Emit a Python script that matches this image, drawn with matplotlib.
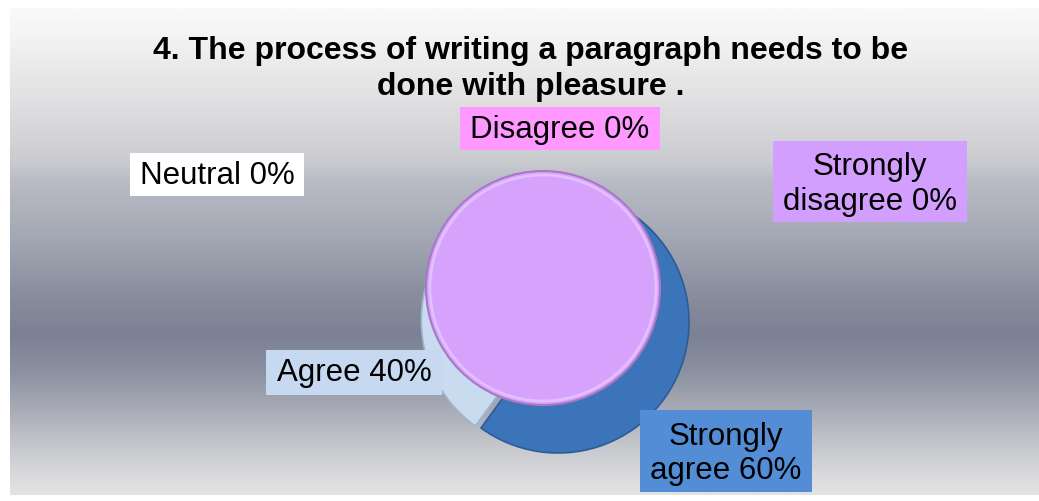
import matplotlib
matplotlib.use("Agg")
import matplotlib.pyplot as plt
import numpy as np
from matplotlib.colors import LinearSegmentedColormap
from matplotlib.patches import Rectangle, Circle

plt.rcParams['font.family'] = ['Liberation Sans', 'DejaVu Sans']

# survey answers
categories = ["Strongly agree", "Agree", "Neutral", "Disagree", "Strongly disagree"]
values = [60, 40, 0, 0, 0]
label_text = ["Strongly\nagree 60%", "Agree 40%", "Neutral 0%", "Disagree 0%", "Strongly\ndisagree 0%"]
title = "4. The process of writing a paragraph needs to be\ndone with pleasure ."

slice_colors = ["#3c74b9", "#c9dbee", "#ffffff", "#f99cf8", "#d6a2fc"]
box_colors = ["#538dd5", "#c6d9f0", "#ffffff", "#ff99ff", "#d39ffe"]
# label boxes: x0, y0 (top), width, height in pixels from top-left
boxes = [(640, 410, 172, 82), (266, 350, 176, 45), (130, 153, 174, 43),
         (460, 107, 200, 43), (773, 141, 194, 81)]

W, H = 1039, 501
fig = plt.figure(figsize=(W / 100, H / 100), dpi=100)
ax = fig.add_axes([0, 0, 1, 1])

# vertical grey gradient behind the chart
stops_y = [8, 30, 100, 160, 180, 240, 290, 335, 370, 410, 450, 480, 495]
stops_c = ["#fafafa", "#f5f5f5", "#e0e0e2", "#cbccd0", "#b9bcc5", "#a3a7b3", "#8b90a0",
           "#7b8093", "#8a90a0", "#a8abb6", "#c8c9ce", "#dcdcde", "#e2e2e2"]
pos = [(y - stops_y[0]) / (stops_y[-1] - stops_y[0]) for y in stops_y]
cmap = LinearSegmentedColormap.from_list("bg", list(zip(pos, stops_c)))
grad = np.linspace(0, 1, 400).reshape(-1, 1)
ax.imshow(grad, cmap=cmap, aspect='auto', origin='upper',
          extent=(10, W, H - stops_y[-1], H - stops_y[0]), zorder=0)

# the pie itself
cx, cy, r = 558, H - 322, 131
wedges, _ = ax.pie(values[:2], colors=slice_colors[:2], startangle=90, counterclock=False,
                   center=(cx, cy), radius=r, explode=[0, 6],
                   wedgeprops=dict(edgecolor="#6f8fb5", linewidth=1.2))
wedges[0].set_edgecolor("#2c5c98")
wedges[1].set_edgecolor("#9fb3cc")
for w in wedges:
    w.set_zorder(2)

# zero-valued slice drawn as a full disc on top
disc = Circle((cx - 15, H - 288), 117, facecolor=slice_colors[4], edgecolor="#a877c8",
              linewidth=1.5, zorder=3)
ax.add_patch(disc)
ax.add_patch(Circle((cx - 15, H - 288), 113, facecolor="none", edgecolor="#e2c0fe",
                    linewidth=2, zorder=3))

# data labels
for txt, c, (x0, y0, bw, bh) in zip(label_text, box_colors, boxes):
    ax.add_patch(Rectangle((x0, H - y0 - bh), bw, bh, facecolor=c, edgecolor="none", zorder=4))
    shift = 3 if "\n" in txt else 1
    ax.text(x0 + bw / 2, H - y0 - bh / 2 - shift, txt, ha='center', va='center', fontsize=22.5,
            color="black", linespacing=1.2, zorder=5)

ax.text(531, H - 69, title, ha='center', va='center', fontsize=23, fontweight='bold',
        linespacing=1.22, zorder=5)

ax.set_xlim(0, W)
ax.set_ylim(0, H)
ax.set_aspect('auto')
ax.axis('off')
fig.savefig("out.png", dpi=100, facecolor="white")
